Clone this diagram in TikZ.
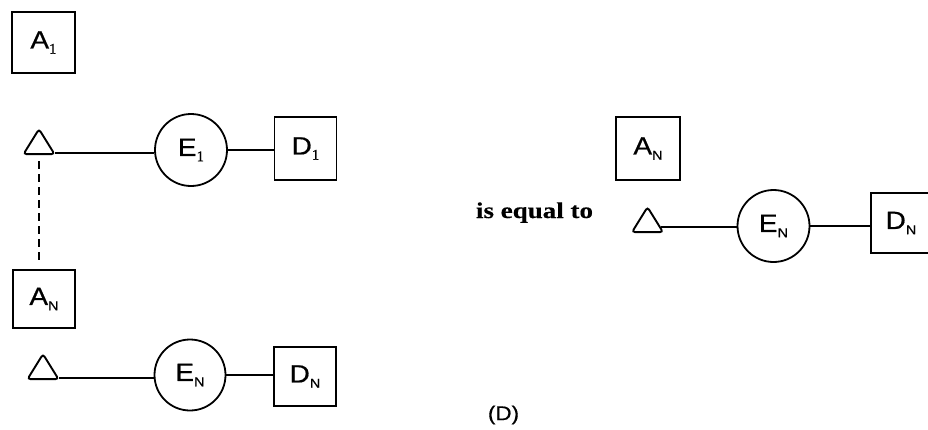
\documentclass[tikz,border=0pt]{standalone}
\usepackage{fontspec}
\setmainfont[FakeStretch=1.12,FakeBold=0.6]{Liberation Sans}
\newfontfamily\eqfont[FakeStretch=1.2,FakeBold=0.4]{Liberation Serif}
\newfontfamily\subserif[FakeBold=0.6]{Liberation Serif}
\usetikzlibrary{shapes.geometric}
\newcommand{\subN}{\raisebox{-0.4ex}{\fontsize{13}{13}\selectfont N}}
\newcommand{\subI}{\raisebox{-0.4ex}{\subserif\fontsize{15}{15}\selectfont 1}}
\begin{document}
\begin{tikzpicture}[x=1pt,y=-1pt,line width=1.8pt,
  box/.style={draw, line width=1.9pt, inner sep=0pt, minimum width=62pt, minimum height=61pt, font=\fontsize{25}{25}\selectfont},
  circ/.style={circle, draw, line width=1.8pt, inner sep=0pt, minimum size=72pt, font=\fontsize{25}{25}\selectfont},
  tri/.style={isosceles triangle, isosceles triangle stretches, shape border rotate=90, draw, line width=1.9pt, inner sep=0pt, minimum width=31pt, minimum height=25pt, rounded corners=3pt},
  conn/.style={line width=1.8pt},
  dashconn/.style={line width=1.5pt, dash pattern=on 8pt off 5pt}]
\useasboundingbox (0,0) rectangle (928,429);
% upper left group
\node[box, minimum width=63pt] (A1) at (43.5,42.5) {A\subI};
\node[tri] (t1) at (39,145.5) {};
\node[circ] (E1) at (191,150) {E\subI};
\node[box, minimum height=63pt] (D1) at (305.5,148.5) {D\subI};
\draw[conn] (t1.-25) -- (t1.-25 -| E1.west);
\draw[conn] (E1.east) -- (E1.east -| D1.west);
% lower left group
\node[box, minimum height=58pt] (AN) at (44,299) {A\subN};
\draw[dashconn, shorten <=6pt, shorten >=6pt] (t1.south) -- (t1.south |- AN.north);
\node[tri] (tN) at (43,370.5) {};
\node[circ, minimum size=71pt] (EN) at (190,375) {E\subN};
\node[box, minimum height=59pt] (DN) at (305,376.5) {D\subN};
\draw[conn] (tN.-25) -- (tN.-25 -| EN.west);
\draw[conn] (EN.east) -- (EN.east -| DN.west);
% right group
\node[anchor=base, font=\eqfont\bfseries\fontsize{22.5}{22.5}\selectfont] (eq) at (534.5,218) {is equal to};
\node[box, minimum width=64pt, minimum height=63pt] (AR) at (648,148.5) {A\subN};
\node[tri] (tR) at (647.5,223.5) {};
\node[circ] (ER) at (773.5,226) {E\subN};
\node[box, minimum width=60pt, minimum height=60pt] (DR) at (901,223) {D\subN};
\draw[conn] (tR.-15) -- (tR.-15 -| ER.west);
\draw[conn] (ER.east) -- (ER.east -| DR.west);
% caption
\node[font=\fontsize{20}{20}\selectfont] (cap) at (503.5,415) {(D)};
\end{tikzpicture}
\end{document}
